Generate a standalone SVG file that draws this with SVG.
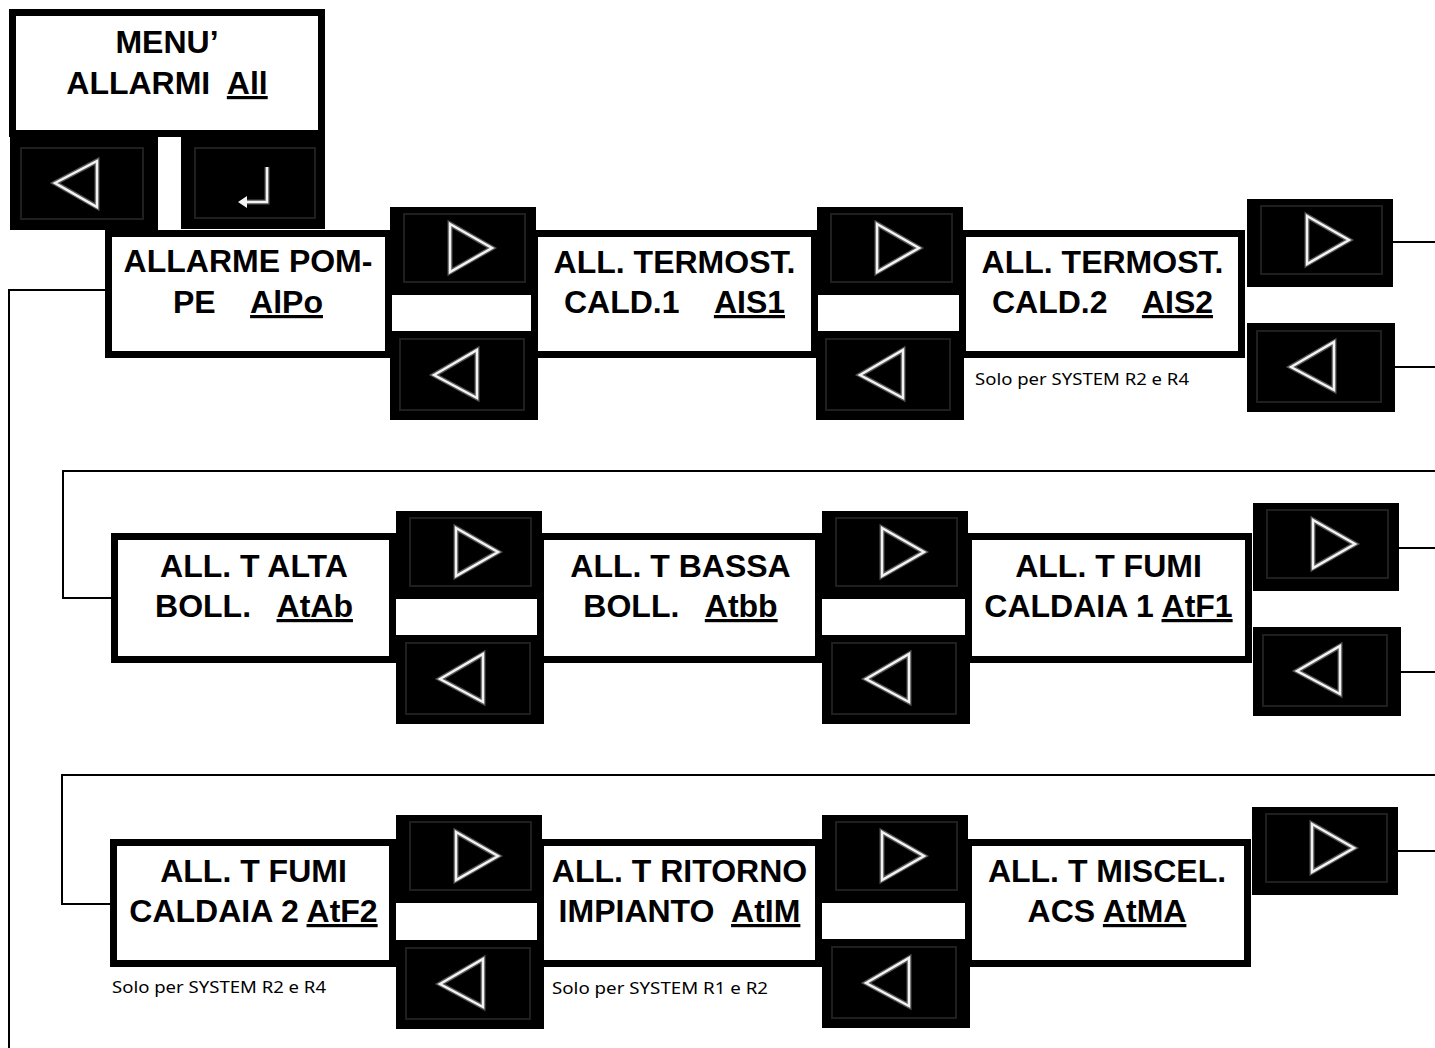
<svg xmlns="http://www.w3.org/2000/svg" xmlns:xlink="http://www.w3.org/1999/xlink" width="1435" height="1048" viewBox="0 0 1435 1048">
<style>
.box{fill:#fff;stroke:#000;stroke-width:7}
.t{font-family:"Liberation Sans",Arial,sans-serif;font-weight:bold;font-size:32px;fill:#000;text-anchor:middle;white-space:pre}
.u{text-decoration:underline}
.note{font-family:"Noto Sans","Open Sans",sans-serif;font-size:17px;fill:#000}
.ln{fill:none;stroke:#000;stroke-width:2}
.tri{fill:none;stroke:#f2f2f2;stroke-width:2.5}
.glow{fill:none;stroke:#555;stroke-width:5}
.inner{fill:none;stroke:#1f1f1f;stroke-width:2}
</style>
<defs>
<g id="bR"><rect width="146" height="88" fill="#000"/><rect class="inner" x="14" y="7" width="121" height="68"/><polygon class="glow" points="60,17 102,41 60,65"/><polygon class="tri" points="60,17 102,41 60,65"/></g>
<g id="bL"><rect width="148" height="89" fill="#000"/><rect class="inner" x="10" y="8" width="124" height="71"/><polygon class="glow" points="44,44 87,19 87,67"/><polygon class="tri" points="44,44 87,19 87,67"/></g>
</defs>
<rect width="1435" height="1048" fill="#fff"/>

<g id="connectors">
<polyline class="ln" points="105,290 9,290 9,1048"/>
<polyline class="ln" points="111,598 63,598 63,471 1435,471"/>
<polyline class="ln" points="110,904 62,904 62,775 1435,775"/>
<line class="ln" x1="1392" y1="242" x2="1435" y2="242"/>
<line class="ln" x1="1395" y1="367" x2="1435" y2="367"/>
<line class="ln" x1="1398" y1="548" x2="1435" y2="548"/>
<line class="ln" x1="1401" y1="672" x2="1435" y2="672"/>
<line class="ln" x1="1398" y1="851" x2="1435" y2="851"/>
</g>

<g id="menu">
<rect class="box" x="12.5" y="12.5" width="309" height="121"/>
<text class="t" x="167" y="53">MENU’</text>
<text class="t" x="167" y="94">ALLARMI  <tspan class="u">All</tspan></text>
</g>
<g id="menu-buttons">
<rect x="10" y="137" width="148" height="93" fill="#000"/>
<rect class="inner" x="21" y="148" width="122" height="71"/>
<polygon class="glow" points="55,183 97,161 97,207"/>
<polygon class="tri" points="55,183 97,161 97,207"/>
<rect x="181" y="137" width="144" height="92" fill="#000"/>
<rect class="inner" x="195" y="148" width="120" height="70"/>
<path class="glow" d="M267,167 V202 H246"/>
<path class="tri" d="M267,167 V202 H246"/>
<polygon points="238,202 247,196 247,208" fill="#f2f2f2"/>
</g>

<g id="node-alpo">
<rect class="box" x="108.5" y="233.5" width="280" height="121"/>
<text class="t" x="248" y="272">ALLARME POM-</text>
<text class="t" x="248" y="313">PE    <tspan class="u">AlPo</tspan></text>
</g>
<g id="node-ais1">
<rect class="box" x="534.5" y="233.5" width="280" height="121"/>
<text class="t" x="674.5" y="273">ALL. TERMOST.</text>
<text class="t" x="674.5" y="313">CALD.1    <tspan class="u">AIS1</tspan></text>
</g>
<g id="node-ais2">
<rect class="box" x="962.5" y="233.5" width="279" height="121"/>
<text class="t" x="1102.5" y="273">ALL. TERMOST.</text>
<text class="t" x="1102.5" y="313">CALD.2    <tspan class="u">AIS2</tspan></text>
<text class="note" x="975" y="385" textLength="214" lengthAdjust="spacingAndGlyphs">Solo per SYSTEM R2 e R4</text>
</g>

<g id="node-atab">
<rect class="box" x="114.5" y="536.5" width="278" height="123"/>
<text class="t" x="254" y="577">ALL. T ALTA</text>
<text class="t" x="254" y="617">BOLL.   <tspan class="u">AtAb</tspan></text>
</g>
<g id="node-atbb">
<rect class="box" x="540.5" y="536.5" width="278" height="123"/>
<text class="t" x="680.5" y="577">ALL. T BASSA</text>
<text class="t" x="680.5" y="617">BOLL.   <tspan class="u">Atbb</tspan></text>
</g>
<g id="node-atf1">
<rect class="box" x="968.5" y="536.5" width="280" height="123"/>
<text class="t" x="1108.5" y="577">ALL. T FUMI</text>
<text class="t" x="1108.5" y="617">CALDAIA 1 <tspan class="u">AtF1</tspan></text>
</g>

<g id="node-atf2">
<rect class="box" x="113.5" y="842.5" width="279" height="121"/>
<text class="t" x="253.5" y="882">ALL. T FUMI</text>
<text class="t" x="253.5" y="922">CALDAIA 2 <tspan class="u">AtF2</tspan></text>
<text class="note" x="112" y="993" textLength="214" lengthAdjust="spacingAndGlyphs">Solo per SYSTEM R2 e R4</text>
</g>
<g id="node-atim">
<rect class="box" x="540.5" y="842.5" width="278" height="121"/>
<text class="t" x="679.5" y="882">ALL. T RITORNO</text>
<text class="t" x="679.5" y="922">IMPIANTO  <tspan class="u">AtIM</tspan></text>
<text class="note" x="552" y="994" textLength="216" lengthAdjust="spacingAndGlyphs">Solo per SYSTEM R1 e R2</text>
</g>
<g id="node-atma">
<rect class="box" x="968.5" y="842.5" width="279" height="121"/>
<text class="t" x="1107" y="882">ALL. T MISCEL.</text>
<text class="t" x="1107" y="922">ACS <tspan class="u">AtMA</tspan></text>
</g>

<g id="nav-buttons">
<use xlink:href="#bR" x="390" y="207"/>
<use xlink:href="#bL" x="390" y="331"/>
<use xlink:href="#bR" x="817" y="207"/>
<use xlink:href="#bL" x="816" y="331"/>
<use xlink:href="#bR" x="1247" y="199"/>
<use xlink:href="#bL" x="1247" y="323"/>
<use xlink:href="#bR" x="396" y="511"/>
<use xlink:href="#bL" x="396" y="635"/>
<use xlink:href="#bR" x="822" y="511"/>
<use xlink:href="#bL" x="822" y="635"/>
<use xlink:href="#bR" x="1253" y="503"/>
<use xlink:href="#bL" x="1253" y="627"/>
<use xlink:href="#bR" x="396" y="815"/>
<use xlink:href="#bL" x="396" y="940"/>
<use xlink:href="#bR" x="822" y="815"/>
<use xlink:href="#bL" x="822" y="939"/>
<use xlink:href="#bR" x="1252" y="807"/>
</g>
</svg>
